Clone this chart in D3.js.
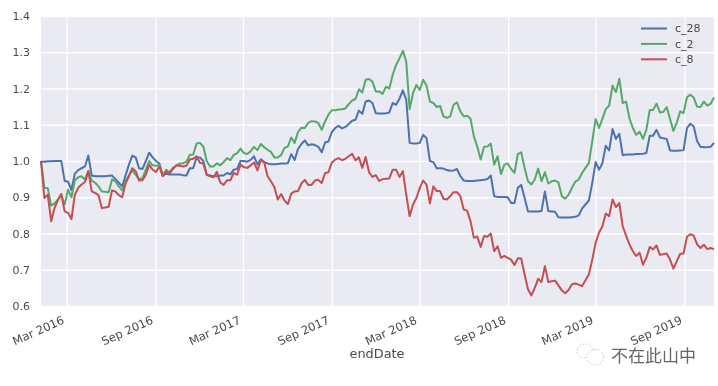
<!DOCTYPE html>
<html>
<head>
<meta charset="utf-8">
<script src="https://cdn.jsdelivr.net/npm/d3@7"></script>
<style>
  html, body { margin: 0; background: #fff; }
  svg { display: block; filter: blur(0.5px); }
  text { font-family: "DejaVu Sans", sans-serif; }
</style>
</head>
<body>
<div id="chart"></div>
<script>
// weekly samples
const c28 = [
  .998,.998,.999,.999,1.0,1.0,1.0,.945,.943,.92,
  .965,.975,.98,.985,1.015,.96,.958,.958,.958,.958,
  .959,.96,.95,.94,.93,.96,.99,1.015,1.01,.98,
  .978,1.0,1.023,1.01,1.0,.993,.96,.965,.963,.963,
  .963,.963,.961,.96,.98,.98,1.01,1.01,1.0,.962,
  .96,.958,.958,.96,.96,.967,.963,.976,.978,1.0,
  1.0,.998,1.003,1.013,.99,1.005,.997,.993,.991,.991,
  .992,.993,.993,.994,1.019,1.003,1.033,1.047,1.057,1.043,
  1.046,1.044,1.039,1.024,1.051,1.054,1.08,1.091,1.097,1.09,
  1.094,1.102,1.111,1.114,1.139,1.13,1.164,1.167,1.16,1.132,
  1.131,1.131,1.132,1.134,1.16,1.155,1.172,1.195,1.169,1.05,
  1.048,1.048,1.05,1.072,1.063,1.0,.997,.98,.98,.979,
  .975,.973,.974,.978,.958,.946,.945,.945,.945,.946,
  .947,.948,.95,.96,.903,.901,.901,.901,.9,.884,
  .884,.926,.934,.898,.861,.861,.861,.861,.862,.916,
  .862,.861,.86,.845,.844,.844,.844,.845,.846,.85,
  .869,.88,.891,.939,.997,.976,.994,1.042,1.029,1.088,
  1.061,1.075,1.016,1.018,1.018,1.018,1.019,1.019,1.02,1.022,
  1.07,1.07,1.086,1.065,1.063,1.061,1.029,1.028,1.028,1.029,
  1.03,1.091,1.103,1.095,1.055,1.039,1.038,1.038,1.039,1.05
]
const c2 = [
  1.0,.926,.925,.877,.883,.893,.905,.88,.921,.9,
  .946,.955,.958,.949,.972,.946,.94,.93,.916,.915,
  .914,.949,.944,.93,.919,.944,.96,.974,.962,.949,
  .953,.976,1.0,.988,.987,.988,.96,.976,.969,.981,
  .987,.993,.994,.998,1.017,1.018,1.048,1.05,1.04,1.0,
  .985,.985,.994,.988,.997,1.008,1.002,1.017,1.022,1.034,
  1.022,1.019,1.027,1.039,1.03,1.047,1.038,1.031,1.025,1.01,
  1.01,1.016,1.036,1.04,1.065,1.05,1.08,1.092,1.091,1.105,
  1.11,1.109,1.105,1.086,1.109,1.128,1.14,1.14,1.142,1.143,
  1.145,1.157,1.167,1.171,1.198,1.189,1.224,1.226,1.219,1.192,
  1.192,1.185,1.205,1.2,1.238,1.265,1.283,1.304,1.274,1.143,
  1.187,1.21,1.196,1.224,1.208,1.164,1.16,1.149,1.152,1.123,
  1.119,1.123,1.155,1.162,1.137,1.123,1.125,1.117,1.068,1.04,
  1.004,1.039,1.04,1.048,.99,1.013,.964,.99,.993,.978,
  .967,1.019,1.024,.981,.944,.935,.949,.979,.944,.969,
  .938,.944,.946,.941,.903,.896,.907,.926,.943,.949,
  .967,.981,.994,1.054,1.116,1.091,1.116,1.143,1.153,1.208,
  1.19,1.227,1.16,1.164,1.118,1.091,1.072,1.081,1.061,1.086,
  1.141,1.141,1.158,1.134,1.135,1.149,1.116,1.083,1.106,1.137,
  1.132,1.176,1.183,1.175,1.15,1.149,1.164,1.153,1.158,1.175
]
const c8 = [
  1.0,.898,.907,.834,.87,.893,.909,.861,.857,.84,
  .907,.926,.935,.942,.972,.916,.912,.906,.87,.872,
  .874,.919,.916,.906,.9,.938,.958,.98,.972,.946,
  .947,.962,.99,.976,.97,.985,.958,.97,.965,.978,
  .988,.987,.985,.987,1.004,1.006,1.013,.995,.993,.962,
  .958,.955,.97,.941,.934,.947,.947,.967,.962,.99,
  .983,.981,.988,.996,.974,1.002,.996,.958,.944,.928,
  .894,.909,.891,.881,.91,.916,.917,.938,.948,.934,
  .934,.946,.948,.939,.967,.969,.996,1.004,1.008,1.002,
  1.006,1.013,1.02,1.002,1.01,.981,1.011,.969,.956,.961,
  .945,.95,.951,.952,.976,.976,.956,.972,.907,.848,
  .88,.898,.926,.946,.935,.883,.93,.917,.917,.896,
  .894,.903,.914,.914,.903,.866,.863,.834,.788,.792,
  .763,.793,.791,.8,.751,.765,.733,.738,.733,.728,
  .713,.732,.731,.687,.646,.629,.65,.675,.666,.71,
  .666,.668,.67,.657,.643,.635,.644,.66,.662,.659,
  .655,.671,.687,.728,.774,.802,.82,.855,.848,.894,
  .873,.884,.82,.794,.77,.751,.738,.747,.714,.733,
  .763,.756,.767,.741,.743,.745,.728,.703,.724,.744,
  .745,.791,.798,.794,.77,.76,.769,.757,.76,.757
]
const endDate = d3.timeDay.range(new Date(2016, 0, 8), new Date(2019, 10, 2), 7)
const xTicks = ['2016-03-01', '2016-09-01', '2017-03-01', '2017-09-01', '2018-03-01', '2018-09-01', '2019-03-01', '2019-09-01']
const yTicks = [0.6, 0.7, 0.8, 0.9, 1.0, 1.1, 1.2, 1.3, 1.4]
const names = ['c_28', 'c_2', 'c_8']
const colors = ['#4C72B0', '#55A868', '#C44E52']

const width = 718
const height = 386
const margin = { top: 16, right: 4, bottom: 80, left: 41 }
const parseDate = d3.timeParse('%Y-%m-%d')

const svg = d3.select('#chart').append('svg').attr('width', width).attr('height', height)

const x = d3.scaleTime()
  .domain(d3.extent(endDate))
  .range([margin.left, width - margin.right])
const y = d3.scaleLinear()
  .domain([0.6, 1.4])
  .range([height - margin.bottom, margin.top])

svg.append('rect')
  .attr('x', margin.left)
  .attr('y', margin.top)
  .attr('width', width - margin.left - margin.right)
  .attr('height', height - margin.top - margin.bottom)
  .attr('fill', '#EAEAF2')

const xAxis = svg.append('g')
  .attr('transform', `translate(0,${height - margin.bottom})`)
  .call(d3.axisBottom(x)
    .tickValues(xTicks.map(parseDate))
    .tickFormat(d3.timeFormat('%b %Y'))
    .tickSize(-(height - margin.top - margin.bottom)))
const yAxis = svg.append('g')
  .attr('transform', `translate(${margin.left},0)`)
  .call(d3.axisLeft(y)
    .tickValues(yTicks)
    .tickFormat(d3.format('.1f'))
    .tickSize(-(width - margin.left - margin.right)))

svg.selectAll('.domain').remove()
svg.selectAll('.tick line').attr('stroke', '#fff').attr('stroke-width', 1.3)
svg.selectAll('.tick text').attr('fill', '#4a4a4a').style('font-size', '11px')

yAxis.selectAll('.tick text').attr('x', -11)
xAxis.selectAll('.tick text')
  .attr('x', 0)
  .attr('y', 0)
  .attr('dy', 0)
  .attr('text-anchor', 'end')
  .style('font-size', '11.6px')
  .attr('transform', 'translate(-2,17) rotate(-24)')

const line = d3.line()
  .x((d, i) => x(endDate[i]))
  .y((d) => y(d))

svg.selectAll('.series')
  .data([c28, c2, c8])
  .enter()
  .append('path')
  .attr('class', 'series')
  .attr('fill', 'none')
  .attr('stroke', (d, i) => colors[i])
  .attr('stroke-width', 2)
  .attr('stroke-linejoin', 'round')
  .attr('d', line)

svg.append('text')
  .attr('x', 377)
  .attr('y', 358)
  .attr('text-anchor', 'middle')
  .attr('textLength', 55)
  .attr('lengthAdjust', 'spacingAndGlyphs')
  .attr('fill', '#4a4a4a')
  .style('font-size', '11.5px')
  .text('endDate')

// legend
const legend = svg.selectAll('.legend')
  .data(names)
  .enter()
  .append('g')
  .attr('class', 'legend')
  .attr('transform', (d, i) => `translate(641,${28.5 + i * 15.4})`)
legend.append('line')
  .attr('x2', 26)
  .attr('stroke', (d, i) => colors[i])
  .attr('stroke-width', 2)
legend.append('text')
  .attr('x', 34)
  .attr('dy', '0.35em')
  .attr('fill', '#4a4a4a')
  .style('font-size', '11px')
  .text((d) => d)

// watermark
const mark = svg.append('g').attr('fill', 'none').attr('stroke', '#888').attr('stroke-width', 0.7).attr('stroke-dasharray', '1 2')
mark.append('ellipse').attr('cx', 585).attr('cy', 351).attr('rx', 8).attr('ry', 7)
mark.append('ellipse').attr('cx', 595).attr('cy', 357).attr('rx', 8.5).attr('ry', 7.5).attr('fill', '#fff')
svg.append('text')
  .attr('x', 611)
  .attr('y', 362)
  .attr('fill', '#666')
  .style('font-family', '"Noto Sans CJK SC"')
  .style('font-size', '17px')
  .text('不在此山中')
</script>
</body>
</html>
